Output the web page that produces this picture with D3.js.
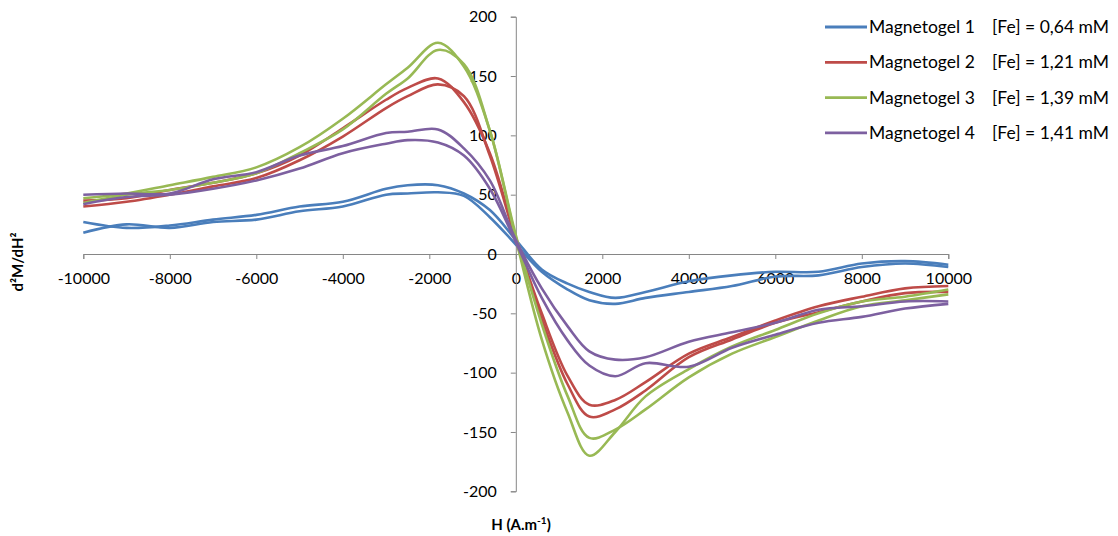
<!DOCTYPE html>
<html>
<head>
<meta charset="utf-8">
<script src="https://cdn.jsdelivr.net/npm/d3@7"></script>
<style>
  body { margin: 0; background: #fff; }
  text { font-family: Lato, "Open Sans", sans-serif; fill: #000; }
</style>
</head>
<body>
<script>
// field values (A.m-1) where the curves were read
const hValues = [-10000, -9000, -8000, -7000, -6000, -5000, -4000, -3000, -2500, -1800, -1200, -600,
  0, 600, 1200, 1700, 2300, 3000, 4000, 5000, 6000, 7000, 8000, 9000, 10000];

// each sample gives two branches (sweep up / sweep down)
const mg1Up = [27, 22, 24, 29, 33, 40, 44, 55, 58, 58, 51, 37, 12, -13, -25, -32, -37, -32, -23, -18, -15, -15, -8, -6, -9];
const mg1Down = [18, 25, 22, 27, 29, 36, 40, 50, 51, 52, 49, 31, 8, -15, -30, -39, -42, -37, -32, -27, -19, -18, -11, -8, -11];
const mg2Up = [45, 47, 54, 60, 68, 83, 106, 130, 140, 148, 128, 85, 14, -50, -103, -127, -123, -108, -84, -70, -56, -44, -36, -29, -27];
const mg2Down = [40, 44, 50, 57, 64, 79, 99, 123, 133, 143, 133, 83, 12, -55, -110, -137, -131, -115, -87, -72, -58, -49, -40, -33, -32];
const mg3Up = [47, 51, 58, 65, 73, 90, 114, 143, 157, 178, 158, 104, 16, -59, -120, -155, -148, -131, -104, -84, -70, -56, -44, -39, -34];
const mg3Down = [43, 50, 54, 60, 68, 85, 105, 135, 148, 172, 160, 104, 13, -72, -134, -170, -150, -120, -97, -78, -64, -50, -40, -36, -30];
const mg4Up = [50, 51, 51, 63, 69, 83, 91, 102, 103, 105, 89, 62, 12, -29, -61, -82, -89, -87, -74, -66, -58, -47, -44, -40, -40];
const mg4Down = [42, 48, 50, 55, 62, 72, 85, 93, 96, 94, 83, 55, 10, -37, -73, -94, -103, -92, -95, -79, -68, -58, -53, -46, -42];

const seriesNames = ["Magnetogel 1", "Magnetogel 2", "Magnetogel 3", "Magnetogel 4"];
const ironLabels = ["[Fe] = 0,64 mM", "[Fe] = 1,21 mM", "[Fe] = 1,39 mM", "[Fe] = 1,41 mM"];
const colors = ["#4a7ebb", "#be4b48", "#98b954", "#7d60a0"];
const branches = [[mg1Up, mg1Down], [mg2Up, mg2Down], [mg3Up, mg3Down], [mg4Up, mg4Down]];

const xTicks = [-10000, -8000, -6000, -4000, -2000, 0, 2000, 4000, 6000, 8000, 10000];
const yTicks = [-200, -150, -100, -50, 0, 50, 100, 150, 200];

const width = 1118, height = 536;

const svg = d3.select("body").append("svg")
  .attr("width", width)
  .attr("height", height);

const x = d3.scaleLinear().domain([-10000, 10000]).range([83.3, 948.3]);
const y = d3.scaleLinear().domain([-200, 200]).range([491.3, 16.7]);

// x axis sits on y = 0 (plain hyphen for negatives, like the original)
const xAxis = d3.axisBottom(x).tickValues(xTicks).tickSize(5).tickPadding(14).tickFormat(d => String(d));
const gx = svg.append("g").attr("transform", `translate(0,${y(0)})`).call(xAxis);
gx.select(".domain").attr("stroke", "#868686");
gx.selectAll(".tick line").attr("stroke", "#868686");
gx.selectAll(".tick text").style("font-size", "16px").attr("fill", "#000");

// y axis sits on x = 0
const yAxis = d3.axisLeft(y).tickValues(yTicks).tickSize(5).tickPadding(14).tickFormat(d => String(d));
const gy = svg.append("g").attr("transform", `translate(${x(0)},0)`).call(yAxis);
gy.select(".domain").attr("stroke", "#868686");
gy.selectAll(".tick line").attr("stroke", "#868686");
gy.selectAll(".tick text").style("font-size", "16px").attr("fill", "#000");

// curves
const line = d3.line()
  .x((d, i) => x(hValues[i]))
  .y(d => y(d))
  .curve(d3.curveCatmullRom.alpha(0.5));

branches.forEach(function (pair, k) {
  pair.forEach(function (vals) {
    svg.append("path")
      .datum(vals)
      .attr("fill", "none")
      .attr("stroke", colors[k])
      .attr("stroke-width", 2.6)
      .attr("stroke-linejoin", "round")
      .attr("d", line);
  });
});

// legend
const legend = svg.append("g");
seriesNames.forEach(function (name, k) {
  const ly = 27 + k * 35.3;
  legend.append("line")
    .attr("x1", 825).attr("x2", 867)
    .attr("y1", ly).attr("y2", ly)
    .attr("stroke", colors[k]).attr("stroke-width", 2.8);
  legend.append("text")
    .attr("x", 869).attr("y", ly + 6)
    .style("font-size", "17.5px")
    .text(name);
  legend.append("text")
    .attr("x", 992).attr("y", ly + 6)
    .style("font-size", "17.5px")
    .text(ironLabels[k]);
});

// axis titles
const xt = svg.append("text")
  .attr("x", 521).attr("y", 530)
  .attr("text-anchor", "middle")
  .style("font-size", "15px").style("font-weight", "bold")
  .text("H (A.m");
xt.append("tspan").attr("dy", -6).style("font-size", "10px").text("-1");
xt.append("tspan").attr("dy", 6).text(")");

svg.append("text")
  .attr("transform", "translate(23,262) rotate(-90)")
  .attr("text-anchor", "middle")
  .style("font-size", "15px").style("font-weight", "bold")
  .text("d²M/dH²");
</script>
</body>
</html>
